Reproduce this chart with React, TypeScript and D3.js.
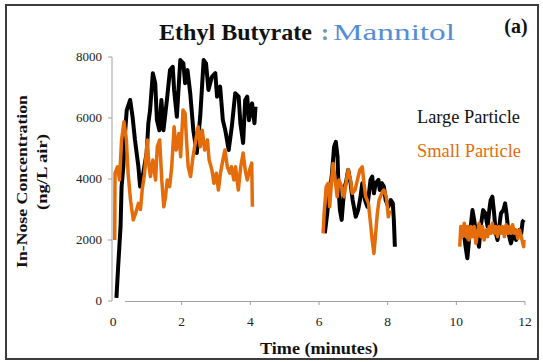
import React from "react";
import * as d3 from "d3";

// Time (minutes), concentration (ng/L air)
const largeSeg1: [number, number][] = [
  [0.1, 100], [0.15, 1125], [0.22, 2436], [0.25, 3750], [0.3, 4400], [0.35, 5500], [0.4, 6260], [0.5, 6590],
  [0.57, 6040], [0.64, 5280], [0.74, 4400], [0.79, 3750], [0.88, 4190], [0.98, 4850], [1.03, 5830], [1.08, 6260],
  [1.16, 7470], [1.23, 7140], [1.28, 5930], [1.35, 5600], [1.41, 6590], [1.47, 5600], [1.57, 6590], [1.66, 7570],
  [1.74, 7680], [1.78, 6920], [1.86, 6040], [1.96, 7900], [2.05, 7790], [2.1, 7140], [2.17, 7570], [2.25, 6810],
  [2.34, 5600], [2.44, 4850], [2.54, 6040], [2.64, 7900], [2.71, 7790], [2.78, 6920], [2.88, 7350], [2.98, 7470],
  [3.03, 6700], [3.12, 7030], [3.2, 5930], [3.27, 5600], [3.37, 4950], [3.46, 5710], [3.56, 6810], [3.66, 6700],
  [3.71, 5830], [3.79, 5180], [3.85, 6590], [3.91, 6700], [3.96, 5930], [4.05, 6480], [4.12, 5830], [4.15, 6370],
];
const smallSeg1: [number, number][] = [
  [0.05, 2000], [0.06, 4190], [0.13, 4400], [0.19, 3970], [0.25, 5280], [0.32, 5880], [0.39, 5280], [0.44, 4190],
  [0.51, 3310], [0.59, 2660], [0.66, 2880], [0.74, 3200], [0.8, 3000], [0.85, 3640], [0.92, 4190], [1.0, 5280],
  [1.05, 4400], [1.09, 4080], [1.16, 4620], [1.24, 3970], [1.29, 5060], [1.36, 5280], [1.42, 3970], [1.48, 3090],
  [1.53, 3420], [1.58, 3970], [1.65, 3750], [1.71, 4400], [1.78, 5710], [1.84, 4950], [1.92, 5490], [1.97, 4730],
  [2.04, 6260], [2.1, 6150], [2.14, 5280], [2.19, 4400], [2.26, 4080], [2.33, 4730], [2.41, 5280], [2.48, 5710],
  [2.54, 5060], [2.6, 5600], [2.67, 4950], [2.75, 5280], [2.8, 4620], [2.88, 4300], [2.94, 3860], [3.01, 4190],
  [3.07, 3640], [3.13, 4190], [3.2, 4620], [3.26, 4950], [3.33, 4400], [3.4, 4190], [3.45, 4400], [3.52, 3970],
  [3.57, 4400], [3.65, 3640], [3.72, 4400], [3.79, 4850], [3.85, 4300], [3.91, 3970], [3.98, 4300], [4.04, 4520],
  [4.06, 3090],
];
const largeSeg2: [number, number][] = [
  [6.17, 2220], [6.24, 2880], [6.29, 3420], [6.37, 4080], [6.44, 5060], [6.49, 5220], [6.54, 4730], [6.57, 3640],
  [6.61, 2980], [6.66, 2660], [6.73, 3640], [6.8, 3970], [6.85, 4300], [6.92, 3860], [6.98, 3310], [7.07, 2760],
  [7.14, 2980], [7.21, 3420], [7.26, 3860], [7.34, 3310], [7.41, 3090], [7.5, 3970], [7.55, 4080], [7.6, 3530],
  [7.65, 3860], [7.73, 3970], [7.77, 3640], [7.83, 3860], [7.89, 3750], [7.94, 3310], [8.02, 3090], [8.09, 3310],
  [8.15, 3200], [8.18, 2660], [8.21, 1780],
];
const smallSeg2: [number, number][] = [
  [6.12, 2220], [6.15, 2880], [6.21, 3750], [6.27, 3860], [6.31, 3090], [6.37, 3970], [6.41, 4510], [6.47, 3970],
  [6.53, 3420], [6.58, 3970], [6.66, 3750], [6.73, 3420], [6.8, 3970], [6.85, 4300], [6.92, 3970], [6.97, 3530],
  [7.05, 3640], [7.12, 3970], [7.19, 4300], [7.26, 4400], [7.31, 3860], [7.36, 3420], [7.44, 3200], [7.5, 2550],
  [7.55, 2000], [7.6, 1560], [7.65, 2220], [7.7, 2880], [7.75, 3310], [7.83, 3530], [7.89, 3640], [7.96, 3420],
  [8.02, 2760], [8.06, 2980],
];
const largeSeg3: [number, number][] = [
  [10.22, 2220], [10.27, 1780], [10.32, 1400], [10.37, 2000], [10.42, 2440], [10.47, 2980], [10.52, 2660],
  [10.57, 2220], [10.62, 2000], [10.66, 1780], [10.71, 2440], [10.78, 2980], [10.84, 2880], [10.91, 2440],
  [10.96, 2980], [11.0, 3310], [11.05, 3420], [11.1, 2880], [11.15, 2220], [11.2, 2000], [11.25, 2440],
  [11.3, 2880], [11.37, 2980], [11.42, 3200], [11.46, 2880], [11.52, 2220], [11.59, 1890], [11.64, 2110],
  [11.69, 2330], [11.74, 2000], [11.79, 2220], [11.84, 2330], [11.89, 2220], [11.93, 2600], [11.97, 2660],
];
const smallSeg3: [number, number][] = [
  [10.1, 1780], [10.13, 2440], [10.18, 2110], [10.23, 2550], [10.28, 2110], [10.33, 2440], [10.37, 2000],
  [10.42, 2440], [10.47, 2110], [10.52, 2440], [10.57, 1890], [10.62, 2220], [10.66, 2550], [10.71, 2110],
  [10.76, 2440], [10.81, 2000], [10.86, 2330], [10.91, 2110], [10.96, 2440], [11.0, 2220], [11.05, 2550],
  [11.1, 2220], [11.15, 2440], [11.2, 2110], [11.25, 2440], [11.3, 2220], [11.35, 2440], [11.4, 2110],
  [11.45, 2500], [11.5, 2220], [11.54, 2440], [11.59, 2220], [11.64, 2500], [11.69, 2220], [11.74, 2330],
  [11.79, 2050], [11.84, 2330], [11.89, 2110], [11.96, 1780], [11.97, 2000],
];

const largeSegments = [largeSeg1, largeSeg2, largeSeg3];
const smallSegments = [smallSeg1, smallSeg2, smallSeg3];

const xTicks = [0, 2, 4, 6, 8, 10, 12];
const yTicks = [0, 2000, 4000, 6000, 8000];

const W = 543;
const H = 362;

const SERIF = '"Liberation Serif"';

export default function App() {
  const x = d3.scaleLinear().domain([0, 12]).range([113, 525]);
  const y = d3.scaleLinear().domain([0, 8000]).range([301, 57]);
  const line = d3
    .line<[number, number]>()
    .x((d) => x(d[0]))
    .y((d) => y(d[1]));
  const f = { fontFamily: SERIF };
  const fn = { fontFamily: SERIF, fontWeight: "normal" as const };

  return (
    <div style={{ position: "fixed", left: 0, top: 0 }}>
      <svg width={W} height={H} style={{ display: "block", background: "#fff" }}>
        <rect x={0} y={0} width={W} height={H} fill="#fff" />
        <rect x={6} y={5} width={532} height={354} fill="none" stroke="#3c3c3c" strokeWidth={2} />

        {/* title */}
        <text x={159} y={40} fontSize={24} fontWeight="bold" fill="#111" textLength={153} lengthAdjust="spacingAndGlyphs" style={f}>
          Ethyl Butyrate
        </text>
        <text x={325} y={40} textAnchor="middle" fontSize={24} fontWeight="bold" fill="#7a94b8" style={f}>
          :
        </text>
        <text x={333} y={40} fontSize={24} fill="#558ED5" textLength={122} lengthAdjust="spacingAndGlyphs" style={fn}>
          Mannitol
        </text>
        <text x={516} y={33} textAnchor="middle" fontSize={20} fontWeight="bold" fill="#111" style={f}>
          (a)
        </text>

        {/* y axis */}
        <line x1={112} x2={112} y1={y(8000)} y2={y(0)} stroke="#a0a0a0" strokeWidth={1} />
        {yTicks.map((t) => (
          <g key={t}>
            <line x1={108} x2={112} y1={y(t)} y2={y(t)} stroke="#a0a0a0" strokeWidth={1} />
            <text x={102} y={y(t) + 4} textAnchor="end" fontSize={13} fill="#222" style={fn}>
              {t}
            </text>
          </g>
        ))}

        {/* x axis */}
        <line x1={125} x2={x(12)} y1={301.5} y2={301.5} stroke="#a0a0a0" strokeWidth={1.2} />
        {xTicks.map((t) => (
          <g key={t}>
            {t > 0 && <line x1={x(t)} x2={x(t)} y1={301.5} y2={305} stroke="#a0a0a0" strokeWidth={1} />}
            <text x={x(t)} y={326} textAnchor="middle" fontSize={13.5} fill="#222" style={fn}>
              {t}
            </text>
          </g>
        ))}

        {/* axis titles */}
        <text x={260} y={354} fontSize={17} fontWeight="bold" fill="#111" textLength={118} lengthAdjust="spacingAndGlyphs" style={f}>
          Time (minutes)
        </text>
        <text
          transform="translate(27,268) rotate(-90)"
          fontSize={15.5}
          fontWeight="bold"
          fill="#111"
          textLength={173}
          lengthAdjust="spacingAndGlyphs"
          style={f}
        >
          In-Nose Concentration
        </text>
        <text
          transform="translate(47,210) rotate(-90)"
          fontSize={15.5}
          fontWeight="bold"
          fill="#111"
          textLength={76}
          lengthAdjust="spacingAndGlyphs"
          style={f}
        >
          (ng/L air)
        </text>

        {/* series */}
        {largeSegments.map((s, i) => (
          <path key={"l" + i} d={line(s) || ""} fill="none" stroke="#000" strokeWidth={4} strokeLinejoin="round" />
        ))}
        {smallSegments.map((s, i) => (
          <path key={"s" + i} d={line(s) || ""} fill="none" stroke="#E46C0A" strokeWidth={3.5} strokeLinejoin="round" />
        ))}

        {/* legend */}
        <text x={417} y={123} fontSize={18} fill="#111" textLength={103} lengthAdjust="spacingAndGlyphs" style={fn}>
          Large Particle
        </text>
        <text x={417} y={157} fontSize={18} fill="#E46C0A" textLength={104} lengthAdjust="spacingAndGlyphs" style={fn}>
          Small Particle
        </text>
      </svg>
    </div>
  );
}
